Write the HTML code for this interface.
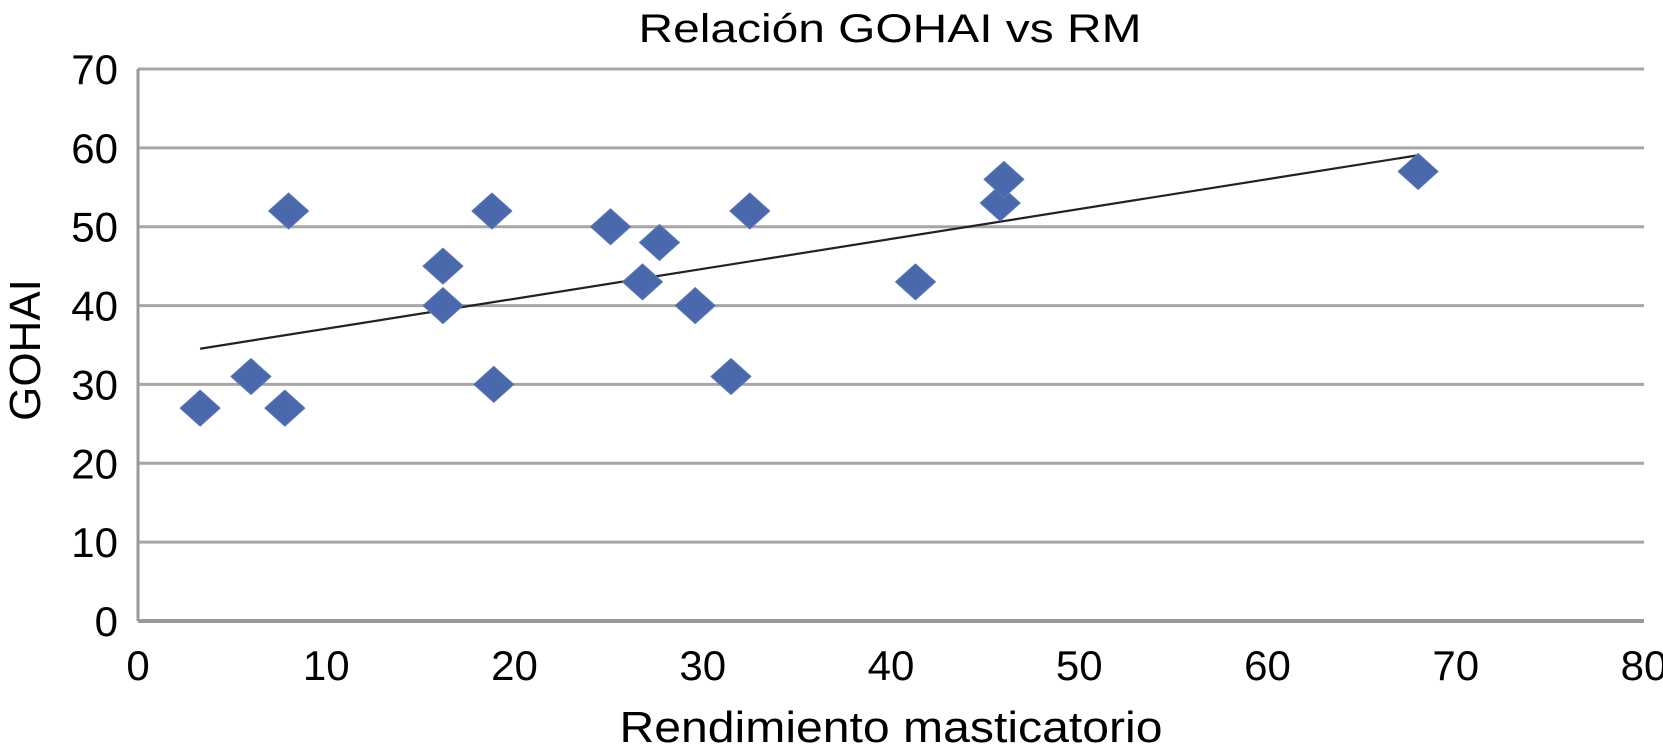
<!DOCTYPE html>
<html><head><meta charset="utf-8"><style>
html,body{margin:0;padding:0;background:#fff;}
svg{display:block;font-family:"Liberation Sans",Arial,sans-serif;}
</style></head><body>
<svg id="chart" width="1663" height="756">
<text x="890" y="42" font-size="40" text-anchor="middle" textLength="503" lengthAdjust="spacingAndGlyphs">Relación GOHAI vs RM</text>
<text x="891" y="742" font-size="44" text-anchor="middle" textLength="543" lengthAdjust="spacingAndGlyphs">Rendimiento masticatorio</text>
<text transform="translate(40,350) rotate(-90)" font-size="44" text-anchor="middle">GOHAI</text>
<g id="grid"></g><g id="trend"></g><g id="marks"></g><g id="labels"></g>
</svg>
<script>
const xValues=[3.3,6,7.8,8,16.2,16.2,18.8,18.9,25.1,26.8,27.7,29.6,31.5,32.5,41.3,45.8,46,68];
const yValues=[27,31,27,52,45,40,52,30,50,43,48,40,31,52,43,53,56,57];
const xTicks=[0,10,20,30,40,50,60,70,80];
const yTicks=[0,10,20,30,40,50,60,70];
const NS="http://www.w3.org/2000/svg";
const X0=138,X1=1644,Y0=621,Y1=69;
function sx(v){return X0+(v-0)/(80-0)*(X1-X0);}
function sy(v){return Y0-(v-0)/(70-0)*(Y0-Y1);}
function mk(t,a,p){const e=document.createElementNS(NS,t);for(const k in a)e.setAttribute(k,a[k]);p.appendChild(e);return e;}
const grid=document.getElementById('grid'),labels=document.getElementById('labels');
yTicks.forEach(v=>{
 const l=mk('line',{x1:X0,x2:X1,y1:sy(v),y2:sy(v),stroke:v===0?'#999':'#a6a6a6','stroke-width':v===0?4:3},grid);
 
 
 const t=mk('text',{x:118,y:sy(v)+15,'font-size':42,'text-anchor':'end'},labels);
 t.textContent=v;
 
 
});
const ax=mk('line',{x1:X0,x2:X0,y1:Y1,y2:Y0,stroke:'#999','stroke-width':3},grid);


xTicks.forEach(v=>{
 const t=mk('text',{x:sx(v),y:680,'font-size':42,'text-anchor':'middle'},labels);
 t.textContent=v;
 
 
});
const n=xValues.length;
const mx=xValues.reduce((a,b)=>a+b,0)/n,my=yValues.reduce((a,b)=>a+b,0)/n;
let sxy=0,sxx=0;for(let i=0;i<n;i++){sxy+=(xValues[i]-mx)*(yValues[i]-my);sxx+=(xValues[i]-mx)**2;}
const slope=sxy/sxx,icpt=my-slope*mx;
const xmin=Math.min(...xValues),xmax=Math.max(...xValues);
const tl=mk('line',{x1:sx(xmin),y1:sy(icpt+slope*xmin),x2:sx(xmax),y2:sy(icpt+slope*xmax),stroke:'#222','stroke-width':2.2},document.getElementById('trend'));


const marks=document.getElementById('marks');
for(let i=0;i<n;i++){
 const cx=sx(xValues[i]),cy=sy(yValues[i]);
 const p=mk('polygon',{points:`${cx-20},${cy} ${cx},${cy-18} ${cx+20},${cy} ${cx},${cy+18}`,fill:'#4a69ad','stroke':'#5a78b8','stroke-width':1,'stroke-linejoin':'round'},marks);
 
 
}
</script>
</body></html>
